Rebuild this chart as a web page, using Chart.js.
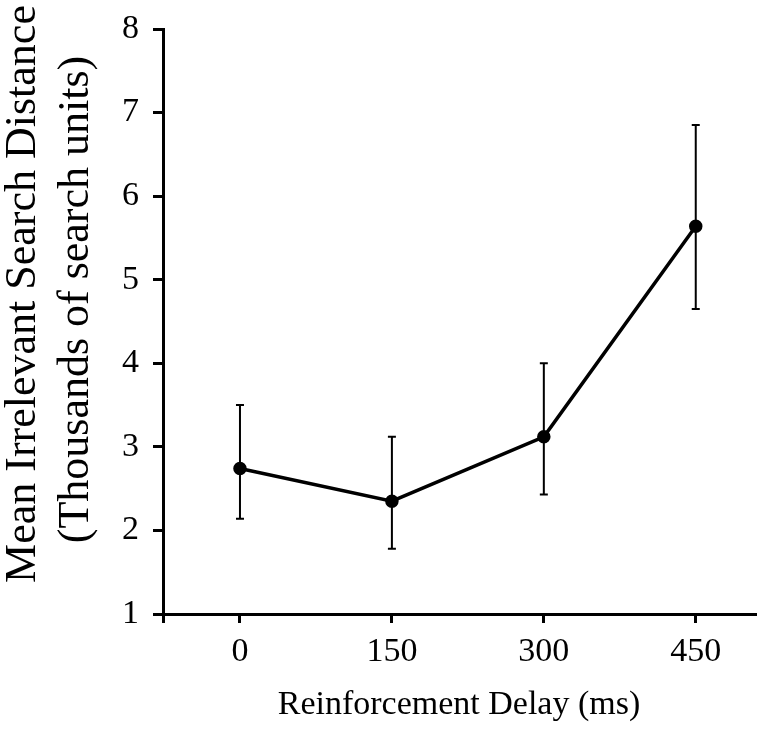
<!DOCTYPE html>
<html>
<head>
<meta charset="utf-8">
<script src="https://cdn.jsdelivr.net/npm/chart.js@4/dist/chart.umd.min.js"></script>
<style>
  html, body { margin: 0; padding: 0; background: #fff; }
  #wrap { width: 779px; height: 731px; }
</style>
</head>
<body>
<div id="wrap"><canvas id="delayChart"></canvas></div>
<script>
// data
const delays = [0, 150, 300, 450];
const meanDistance = [2.74, 2.35, 3.12, 5.64];
const errUpper = [3.50, 3.12, 4.00, 6.85];
const errLower = [2.14, 1.78, 2.43, 4.65];
const yTicks = [1, 2, 3, 4, 5, 6, 7, 8];

const serif = "'Liberation Serif', 'Times New Roman', serif";

// draws the vertical error bars with small caps
const errorBarsPlugin = {
    id: 'errorBars',
    afterDatasetsDraw(chart) {
        const ctx = chart.ctx;
        const xs = chart.scales.x;
        const ys = chart.scales.y;
        ctx.save();
        ctx.strokeStyle = '#000';
        ctx.lineWidth = 2;
        delays.forEach((d, i) => {
            const x = xs.getPixelForValue(d);
            const yTop = ys.getPixelForValue(errUpper[i]);
            const yBot = ys.getPixelForValue(errLower[i]);
            ctx.beginPath();
            ctx.moveTo(x, yTop);
            ctx.lineTo(x, yBot);
            ctx.moveTo(x - 4, yTop);
            ctx.lineTo(x + 4, yTop);
            ctx.moveTo(x - 4, yBot);
            ctx.lineTo(x + 4, yBot);
            ctx.stroke();
        });
        ctx.restore();
    }
};

// the y title sits a bit above the middle of the axis in the original,
// leading spaces push it up
const yTitle = [
    ' '.repeat(5) + 'Mean Irrelevant Search Distance',
    ' '.repeat(4) + '(Thousands of search units)'
];

new Chart(document.getElementById('delayChart'), {
    type: 'line',
    data: {
        datasets: [{
            label: 'Mean Irrelevant Search Distance',
            data: delays.map((d, i) => ({ x: d, y: meanDistance[i] })),
            borderColor: '#000',
            backgroundColor: '#000',
            borderWidth: 3.5,
            pointRadius: 5,
            pointHoverRadius: 5,
            tension: 0
        }]
    },
    options: {
        responsive: true,
        maintainAspectRatio: false,
        animation: false,
        layout: { padding: { top: 29, right: 24, left: 0, bottom: 0 } },
        plugins: {
            legend: { display: false },
            tooltip: { enabled: false }
        },
        scales: {
            x: {
                type: 'linear',
                min: -76,
                max: 508.5,
                afterBuildTicks: (scale) => {
                    scale.ticks = [{ value: -76 }].concat(delays.map(v => ({ value: v })));
                },
                afterFit: (scale) => {
                    scale.height = 117;
                    scale.paddingLeft = 0;
                    scale.paddingRight = 0;
                },
                border: { display: true, color: '#000', width: 3 },
                grid: { drawOnChartArea: false, drawTicks: true, tickLength: 9, color: '#000', lineWidth: 3 },
                ticks: {
                    color: '#000',
                    padding: 9,
                    maxRotation: 0,
                    font: { family: serif, size: 34 },
                    callback: (v) => (v < 0 ? '' : String(v))
                },
                title: {
                    display: true,
                    text: 'Reinforcement Delay (ms)',
                    color: '#000',
                    padding: { top: 0, bottom: 9 },
                    font: { family: serif, size: 34, lineHeight: 1 }
                }
            },
            y: {
                min: 1,
                max: 8,
                afterBuildTicks: (scale) => {
                    scale.ticks = yTicks.map(v => ({ value: v }));
                },
                afterFit: (scale) => {
                    scale.width = 163;
                    scale.paddingTop = 0;
                    scale.paddingBottom = 0;
                },
                border: { display: true, color: '#000', width: 3 },
                grid: { drawOnChartArea: false, drawTicks: true, tickLength: 10, color: '#000', lineWidth: 3 },
                ticks: {
                    color: '#000',
                    padding: 14,
                    font: { family: serif, size: 34 }
                },
                title: {
                    display: true,
                    text: yTitle,
                    color: '#000',
                    padding: { top: -3, bottom: 0 },
                    font: { family: serif, size: 44, lineHeight: 1.2 }
                }
            }
        }
    },
    plugins: [errorBarsPlugin]
});
</script>
</body>
</html>
